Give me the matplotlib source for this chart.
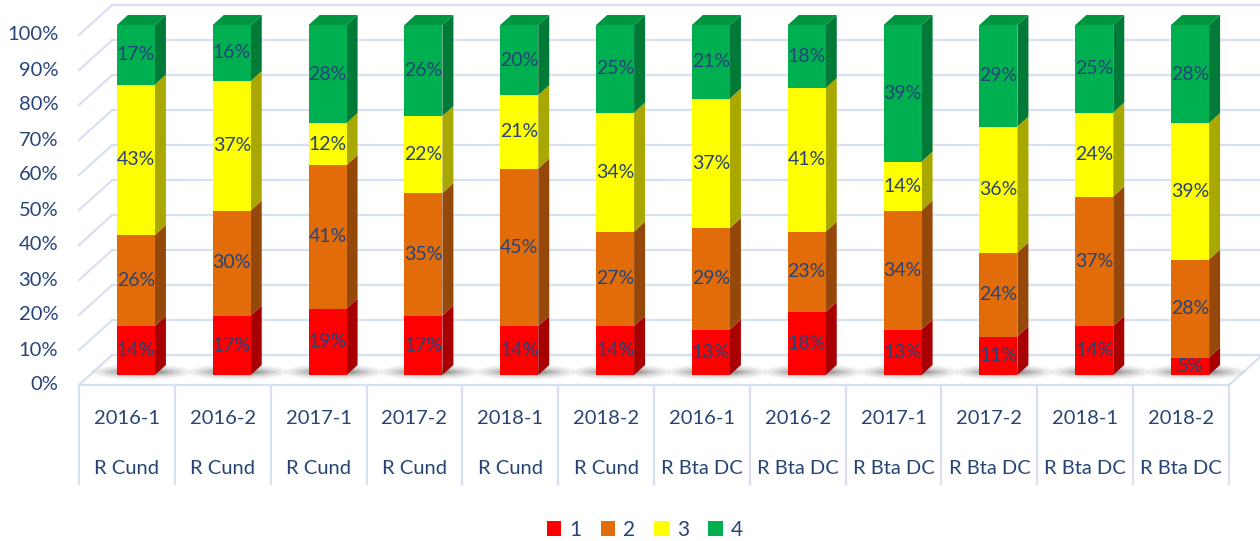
import matplotlib
matplotlib.use("Agg")
import matplotlib.pyplot as plt
from matplotlib.patches import Polygon, Ellipse, Patch
import numpy as np

plt.rcParams['font.family'] = ['Lato', 'DejaVu Sans']

periods = ["2016-1", "2016-2", "2017-1", "2017-2", "2018-1", "2018-2",
           "2016-1", "2016-2", "2017-1", "2017-2", "2018-1", "2018-2"]
regions = ["R Cund"] * 6 + ["R Bta DC"] * 6
series_names = ["1", "2", "3", "4"]
s1 = [14, 17, 19, 17, 14, 14, 13, 18, 13, 11, 14, 5]
s2 = [26, 30, 41, 35, 45, 27, 29, 23, 34, 24, 37, 28]
s3 = [43, 37, 12, 22, 21, 34, 37, 41, 14, 36, 24, 39]
s4 = [17, 16, 28, 26, 20, 25, 21, 18, 39, 29, 25, 28]
series = [s1, s2, s3, s4]
yticks = list(range(0, 101, 10))

front_cols = ["#FF0000", "#E36C0A", "#FFFF00", "#00B050"]
side_cols = ["#A80000", "#96470A", "#A8A800", "#007A36"]
top_cols = ["#D00000", "#C05A08", "#D8D800", "#00963F"]
txt_col = "#264478"
grid_col = "#D9E1F0"

W, H = 1260, 541
fig = plt.figure(figsize=(W / 100, H / 100), dpi=100)
ax = fig.add_axes([79 / W, 156 / H, 1150 / W, 350 / H])
n = len(periods)
ax.set_xlim(-0.5, n - 0.5)
ax.set_ylim(0, 100)
pxx = 1150 / n   # px per x unit
pxy = 3.5        # px per y unit

# 3D offsets (in data units)
ox, oy = 9 / pxx, 10 / pxy          # bar front offset from floor front
dxd, dyd = 11 / pxx, 10 / pxy       # bar depth
bx, by = 33 / pxx, 8.5              # back wall offset
bw = 38 / pxx

for s in ax.spines.values():
    s.set_visible(False)
ax.set_xticks([])
ax.set_yticks(yticks)
ax.set_yticklabels([f"{v}%" for v in yticks], fontsize=14.5, color=txt_col)
ax.tick_params(axis='y', length=0, pad=15)
for lbl in ax.get_yticklabels():
    lbl.set_va('center')
ax.set_facecolor('none')

# back wall gridlines and left wall diagonals
for v in yticks:
    ax.plot([-0.5 + bx, n - 0.5 + bx + 0.5], [v + by, v + by], color=grid_col,
            lw=1.6, zorder=0, clip_on=False)
    ax.plot([-0.5, -0.5 + bx], [v, v + by], color=grid_col, lw=1.6, zorder=0,
            clip_on=False)

# floor
floor = Polygon([(-0.5, 0), (n - 0.5, 0), (n - 0.5 + bx, by), (-0.5 + bx, by)],
                closed=True, facecolor="white", edgecolor=grid_col, lw=1.6,
                zorder=1, clip_on=False)
ax.add_patch(floor)

x = np.arange(n)
cx = x + ox

# shadows (soft grey smear on the floor behind each bar)
layers = [(100, 16, 0.05), (90, 13, 0.07), (78, 10, 0.09), (66, 8, 0.11),
          (54, 6, 0.13), (44, 4.5, 0.15)]
for i in range(n):
    for (w, h, a) in layers:
        e = Ellipse((cx[i] + 6 / pxx, oy + 3.0 / pxy), w / pxx, h / pxy,
                    facecolor="#303030", edgecolor='none', alpha=a, zorder=2,
                    clip_on=False)
        ax.add_patch(e)

# bars
bottom = np.zeros(n)
for si, vals in enumerate(series):
    vals = np.array(vals, dtype=float)
    ax.bar(cx, vals, bw, bottom=bottom + oy, color=front_cols[si], zorder=4,
           clip_on=False, linewidth=0)
    for i in range(n):
        r = cx[i] + bw / 2
        b = bottom[i] + oy
        t = b + vals[i]
        side = Polygon([(r, b), (r + dxd, b + dyd), (r + dxd, t + dyd), (r, t)],
                       closed=True, facecolor=side_cols[si], edgecolor='none',
                       zorder=3, clip_on=False)
        ax.add_patch(side)
        if si == len(series) - 1:
            l = cx[i] - bw / 2
            top = Polygon([(l, t), (r, t), (r + dxd, t + dyd), (l + dxd, t + dyd)],
                          closed=True, facecolor=top_cols[si], edgecolor='none',
                          zorder=3, clip_on=False)
            ax.add_patch(top)
        ax.text(cx[i], b + vals[i] / 2, f"{int(vals[i])}%", ha='center',
                va='center', fontsize=14, color=txt_col, zorder=6, clip_on=False)
    bottom += vals

# category axis (multi-level labels)
y_row1 = -33 / pxy
y_row2 = -83 / pxy
y_end = -99 / pxy
for k in range(n + 1):
    ax.plot([k - 0.5, k - 0.5], [0, y_end], color=grid_col, lw=1.6,
            clip_on=False, zorder=1)
for i in range(n):
    ax.text(i, y_row1, periods[i], ha='center', va='center', fontsize=14.5,
            color=txt_col, clip_on=False)
    ax.text(i, y_row2, regions[i], ha='center', va='center', fontsize=14.5,
            color=txt_col, clip_on=False)

handles = [Patch(facecolor=c, edgecolor='none') for c in front_cols]
fig.legend(handles, series_names, loc='center', bbox_to_anchor=(645 / W, 1 - 530 / H),
           ncol=4, frameon=False, fontsize=15, handlelength=0.7, handleheight=0.7,
           handletextpad=0.4, columnspacing=0.9, labelcolor=txt_col)

fig.savefig("out.png", dpi=100)
